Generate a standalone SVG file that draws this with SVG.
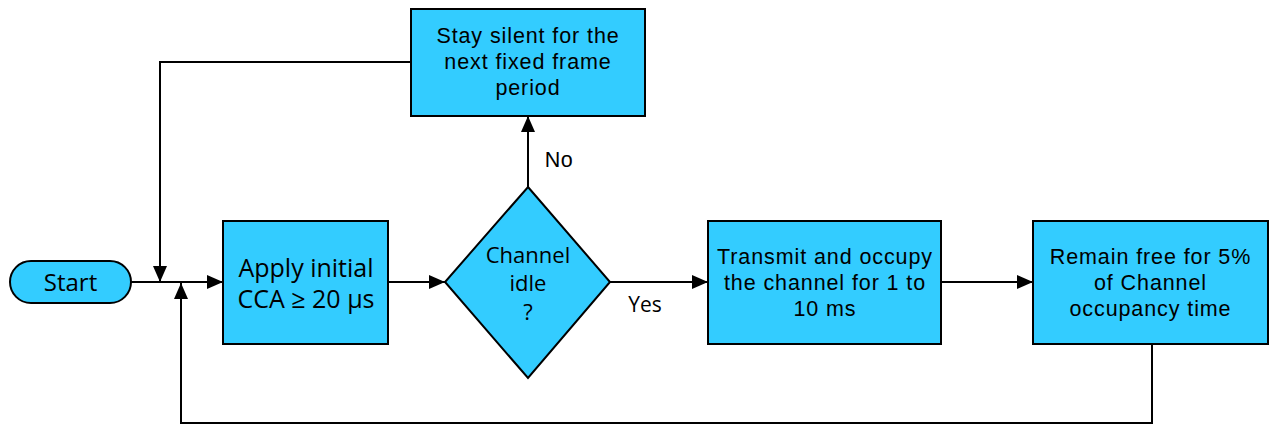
<svg xmlns="http://www.w3.org/2000/svg" width="1270" height="426" viewBox="0 0 1270 426">
<defs>
<style>
.box{fill:#33CCFF;stroke:#000;stroke-width:2}
.ln{fill:none;stroke:#000;stroke-width:2}
.t1{font-family:"Open Sans","DejaVu Sans",sans-serif;font-size:24px;fill:#000;text-anchor:middle}
.t2{font-family:"Liberation Sans",Arial,sans-serif;font-size:21.5px;fill:#000;text-anchor:middle;letter-spacing:0.9px}
</style>
<marker id="ah" markerWidth="17" markerHeight="16" refX="16" refY="8" orient="auto" markerUnits="userSpaceOnUse">
<path d="M0,1 L16,8 L0,15 Z" fill="#000"/>
</marker>
</defs>
<rect width="1270" height="426" fill="#fff"/>
<g id="connectors">
<path class="ln" d="M131,282 L223,282" marker-end="url(#ah)"/>
<path class="ln" d="M411,62 L160,62 L160,282" marker-end="url(#ah)"/>
<path class="ln" d="M1152,344 L1152,423 L181,423 L181,283" marker-end="url(#ah)"/>
<path class="ln" d="M388,282 L445,282" marker-end="url(#ah)"/>
<path class="ln" d="M528,187 L528,116" marker-end="url(#ah)"/>
<path class="ln" d="M610,282 L708,282" marker-end="url(#ah)"/>
<path class="ln" d="M941,282 L1033,282" marker-end="url(#ah)"/>
<text class="t2" x="559" y="167" style="letter-spacing:0.5px">No</text>
<text class="t1" x="645" y="312" style="font-size:21px">Yes</text>
</g>
<g id="start">
<rect class="box" x="10" y="261" width="121" height="42" rx="21" ry="21"/>
<text class="t1" x="70.5" y="291">Start</text>
</g>
<g id="apply">
<rect class="box" x="223" y="221" width="165" height="123"/>
<text class="t1" x="306" y="277" style="font-size:25px">Apply initial</text>
<text class="t1" x="306" y="308" style="font-size:25px">CCA ≥ 20 µs</text>
</g>
<g id="decision">
<polygon class="box" points="528,187 610,282 528,378 445,282"/>
<text class="t1" x="528" y="263" style="font-size:22px">Channel</text>
<text class="t1" x="528" y="291" style="font-size:22px">idle</text>
<text class="t1" x="528" y="320" style="font-size:22px">?</text>
</g>
<g id="silent">
<rect class="box" x="411" y="9" width="234" height="107"/>
<text class="t2" x="528" y="43">Stay silent for the</text>
<text class="t2" x="528" y="69">next fixed frame</text>
<text class="t2" x="528" y="95">period</text>
</g>
<g id="transmit">
<rect class="box" x="708" y="221" width="233" height="123"/>
<text class="t2" x="825" y="264">Transmit and occupy</text>
<text class="t2" x="825" y="290">the channel for 1 to</text>
<text class="t2" x="825" y="316">10 ms</text>
</g>
<g id="remain">
<rect class="box" x="1033" y="221" width="235" height="123"/>
<text class="t2" x="1150.5" y="264">Remain free for 5%</text>
<text class="t2" x="1150.5" y="290">of Channel</text>
<text class="t2" x="1150.5" y="316">occupancy time</text>
</g>
</svg>
